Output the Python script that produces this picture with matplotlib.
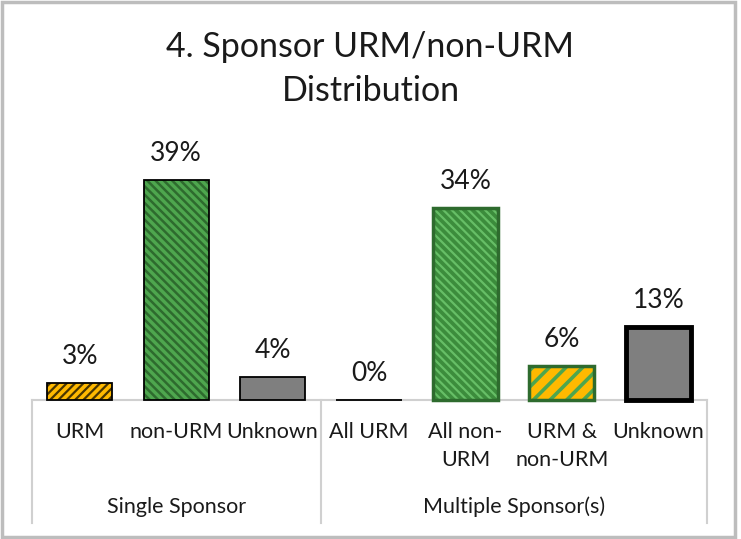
import numpy as np
import matplotlib
matplotlib.use('Agg')
import matplotlib.pyplot as plt
from matplotlib.patches import Rectangle
from matplotlib.lines import Line2D

# data
categories = ['URM', 'non-URM', 'Unknown', 'All URM', 'All non-\nURM', 'URM &\nnon-URM', 'Unknown']
values = [3, 39, 4, 0, 34, 6, 13]
groups = ['Single Sponsor', 'Multiple Sponsor(s)']
group_sizes = [3, 4]

ORANGE = '#FFB900'
GREEN = '#4EA64E'
MDGREEN = '#3C8C3C'
DKGREEN = '#2E6B2E'
LTGREEN = '#66BE66'
GRAY = '#7F7F7F'

# fill, hatch, hatch colour, hatch width, edge colour, edge width
styles = [
    (ORANGE, '////', '#4a3600', 1.6, 'black', 1.3),
    (GREEN, '\\\\\\\\', DKGREEN, 1.8, 'black', 1.3),
    (GRAY, '', None, 1, 'black', 1.3),
    ('white', '', None, 1, 'black', 1.3),
    (MDGREEN, '\\\\\\\\', LTGREEN, 1.6, DKGREEN, 2.5),
    (ORANGE, '//', GREEN, 2.6, DKGREEN, 2.5),
    (GRAY, '', None, 1, 'black', 3.5),
]

plt.rcParams['font.family'] = ['Lato', 'DejaVu Sans']
plt.rcParams['hatch.linewidth'] = 2.0

W, H = 741, 539
fig = plt.figure(figsize=(W / 100, H / 100), dpi=100)

# axes placed in pixel terms
left, right, base, top = 31.5, 706.5, 400, 146
ax = fig.add_axes([left / W, (H - base) / H, (right - left) / W, (base - top) / H])
ax.set_xlim(-0.5, len(values) - 0.5)
ax.set_ylim(0, 45)
ax.axis('off')

lc = '#d0d0d0'
ax.axhline(0, color=lc, lw=1.5, zorder=1, clip_on=False)

x = np.arange(len(values))
bw = 0.675
for i, (v, st) in enumerate(zip(values, styles)):
    fill, hatch, hcol, hlw, ecol, lw = st
    if hatch:
        b = ax.bar(x[i], v, bw, color=fill, hatch=hatch, edgecolor=hcol, linewidth=0, zorder=2)
        for p in b:
            if hasattr(p, 'set_hatch_linewidth'):
                p.set_hatch_linewidth(hlw)
    else:
        ax.bar(x[i], v, bw, color=fill, linewidth=0, zorder=2)
    ax.bar(x[i], v, bw, color='none', edgecolor=ecol, linewidth=lw, zorder=3, clip_on=False)
    ax.annotate(f'{v}%', (x[i], v), xytext=(0, 14), textcoords='offset pixels',
                ha='center', va='bottom', fontsize=19, color='#1a1a1a')

# category axis box
def fx(px):
    return px / W
def fy(py):
    return 1 - py / H

step = (right - left) / len(values)
bounds = [0, 3, 7]
for b in bounds:
    xp = left + b * step
    fig.add_artist(Line2D([fx(xp), fx(xp)], [fy(base), fy(523)], color=lc, lw=1.5))

for i, c in enumerate(categories):
    xp = left + (i + 0.5) * step
    fig.text(fx(xp), fy(422), c, ha='center', va='top', fontsize=15.5,
             color='#1a1a1a', linespacing=1.5)

start = 0
for g, n in zip(groups, group_sizes):
    xp = left + (start + n / 2) * step
    fig.text(fx(xp), fy(507), g, ha='center', va='center', fontsize=15.5, color='#1a1a1a')
    start += n

fig.text(0.5, fy(69), '4. Sponsor URM/non-URM\nDistribution', ha='center', va='center',
         fontsize=24.5, color='#1a1a1a', linespacing=1.45)

# outer frame
fig.add_artist(Rectangle((fx(1.5), fy(537)), fx(735) - fx(1.5), fy(1.5) - fy(537),
                         fill=False, edgecolor='#bdbdbd', lw=2.5))

fig.savefig('out.png', dpi=100, facecolor='white')
